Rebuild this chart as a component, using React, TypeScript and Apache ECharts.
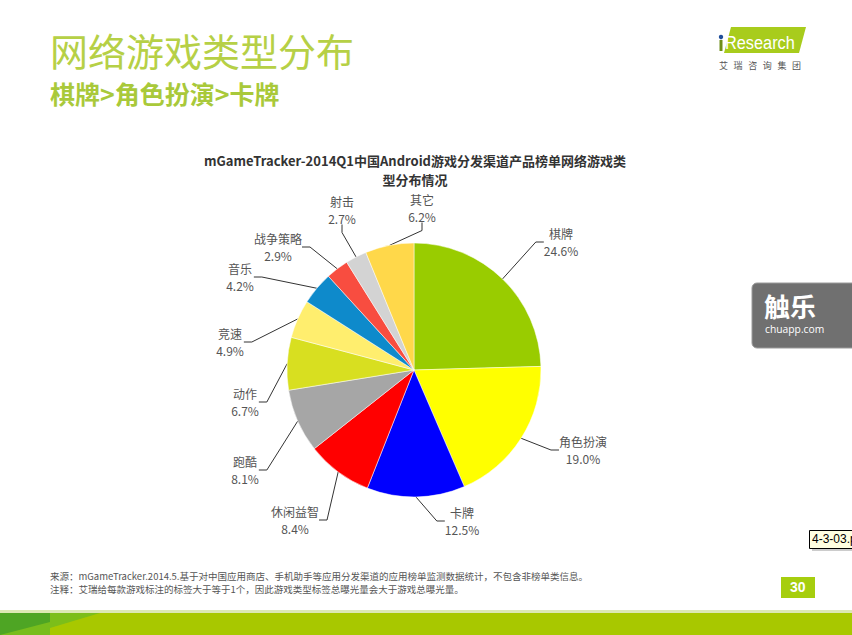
import React, { useEffect, useRef } from "react";
import * as echarts from "echarts";

const categories = ["棋牌", "角色扮演", "卡牌", "休闲益智", "跑酷", "动作", "竞速", "音乐", "战争策略", "射击", "其它"];
const shares = [24.6, 19.0, 12.5, 8.4, 8.1, 6.7, 4.9, 4.2, 2.9, 2.7, 6.2];
const sliceColors = ["#99CC00", "#FFFF00", "#0000FF", "#FF0000", "#A6A6A6", "#D8DF20", "#FFEE6E", "#0E8ACB", "#F84D40", "#D3D3D3", "#FFD84A"];
// where each slice's label block sits (centre of the two-line text)
const labelCenters = [
  [561, 242], [583, 450], [462, 521], [295, 520], [245, 470], [245, 402],
  [230, 342], [240, 277], [278, 247], [342, 210], [422, 208],
];

const pageTitle = "网络游戏类型分布";
const pageSubtitle = "棋牌>角色扮演>卡牌";
const chartTitle = "mGameTracker-2014Q1中国Android游戏分发渠道产品榜单网络游戏类\n型分布情况";
const notes = [
  "来源：mGameTracker.2014.5.基于对中国应用商店、手机助手等应用分发渠道的应用榜单监测数据统计，不包含非榜单类信息。",
  "注释：艾瑞给每款游戏标注的标签大于等于1个，因此游戏类型标签总曝光量会大于游戏总曝光量。",
];
const logoSub = ["艾", "瑞", "咨", "询", "集", "团"];

const CJK = '"Noto Sans CJK SC", "Noto Sans", sans-serif';

export default function App() {
  const ref = useRef<HTMLDivElement>(null);
  useEffect(() => {
    if (!ref.current) return;
    const chart = echarts.init(ref.current, null, { renderer: "svg" });
    chart.setOption({
      animation: false,
      backgroundColor: "#ffffff",
      title: {
        text: chartTitle,
        left: 410,
        top: 146,
        textAlign: "center",
        textStyle: { fontFamily: CJK, fontSize: 13, fontWeight: "bold", color: "#333333", lineHeight: 19 },
      },
      series: [
        {
          type: "pie",
          center: [414, 370],
          radius: 127,
          startAngle: 90,
          clockwise: true,
          avoidLabelOverlap: false,
          itemStyle: { borderColor: "#ffffff", borderWidth: 0.5 },
          label: {
            show: true,
            position: "outside",
            formatter: (p: any) => `{a|${p.name}}\n{a|${Number(p.value).toFixed(1)}%}`,
            rich: {
              a: { fontFamily: CJK, fontSize: 12, color: "#555555", align: "center", lineHeight: 17 },
            },
          },
          labelLine: {
            show: true,
            length: 18,
            length2: 8,
            lineStyle: { color: "#333333", width: 1 },
          },
          labelLayout: (params: any) => {
            const c = labelCenters[params.dataIndex];
            return { x: c[0], y: c[1], align: "center", verticalAlign: "middle" };
          },
          data: categories.map((name, i) => ({
            name,
            value: shares[i],
            itemStyle: { color: sliceColors[i] },
          })),
        },
      ],
      graphic: [
        { type: "text", left: 50, top: 30, style: { text: pageTitle, fontFamily: CJK, fontSize: 38, fill: "#B6D046" } },
        { type: "text", left: 50, top: 80, style: { text: pageSubtitle, fontFamily: CJK, fontSize: 25, fontWeight: "bold", fill: "#A9C93A" } },
        // logo
        { type: "polygon", shape: { points: [[731, 27], [806, 27], [799, 53], [724, 53]] }, style: { fill: "#A8CC1C" } },
        { type: "rect", shape: { x: 719.5, y: 40, width: 3, height: 11 }, style: { fill: "#6E8F1A" } },
        { type: "circle", shape: { cx: 721, cy: 37, r: 2.2 }, style: { fill: "#1F4E9A" } },
        { type: "text", x: 725, y: 33, scaleX: 0.86, style: { text: "Research", fontFamily: "Liberation Sans, Arial, sans-serif", fontSize: 19, fill: "#ffffff" } },
        ...logoSub.map((ch, i) => ({ type: "text", x: 719 + i * 14.6, y: 61, style: { text: ch, fontFamily: CJK, fontSize: 9, fill: "#555555" } })),
        // watermark
        { type: "rect", shape: { x: 752, y: 283, width: 110, height: 65, r: 5 }, style: { fill: "#707070", stroke: "#9a9a9a", lineWidth: 1 } },
        { type: "text", left: 764, top: 292, style: { text: "触乐", fontFamily: CJK, fontSize: 26, fontWeight: "bold", fill: "#ffffff" } },
        { type: "text", left: 765, top: 324, style: { text: "chuapp.com", fontFamily: "Open Sans, sans-serif", fontSize: 10.3, fill: "#ffffff" } },
        // tooltip-like box
        { type: "rect", shape: { x: 812, y: 533, width: 44, height: 18 }, style: { fill: "#cccccc" } },
        { type: "rect", shape: { x: 809.5, y: 530.5, width: 46, height: 18 }, style: { fill: "#FFFFE1", stroke: "#000000", lineWidth: 1 } },
        { type: "text", x: 812, y: 533, style: { text: "4-3-03.p", fontFamily: "Liberation Sans, Arial, sans-serif", fontSize: 12, fill: "#000000" } },
        // notes
        { type: "text", left: 50, top: 571, style: { text: notes[0], fontFamily: CJK, fontSize: 9.5, fill: "#555555" } },
        { type: "text", left: 50, top: 584, style: { text: notes[1], fontFamily: CJK, fontSize: 9.5, fill: "#555555" } },
        // page number
        { type: "rect", shape: { x: 781, y: 577, width: 34, height: 21 }, style: { fill: "#A6CE0E" } },
        { type: "text", left: 790, top: 580, style: { text: "30", fontFamily: "Liberation Sans, Arial, sans-serif", fontSize: 14, fontWeight: "bold", fill: "#ffffff" } },
        // bottom band
        { type: "rect", shape: { x: 0, y: 610, width: 852, height: 3 }, style: { fill: "#DCE8B4" } },
        { type: "rect", shape: { x: 0, y: 613, width: 852, height: 22 }, style: { fill: "#A8C800" } },
        { type: "rect", shape: { x: 0, y: 613, width: 50, height: 22 }, style: { fill: "#4EA524" } },
        { type: "polygon", shape: { points: [[50, 613], [100, 613], [50, 628]] }, style: { fill: "#7CBE1A" } },
        { type: "polygon", shape: { points: [[0, 635], [50, 622], [50, 635]] }, style: { fill: "#78BD1C" } },
      ],
    });
    return () => chart.dispose();
  }, []);
  return <div ref={ref} style={{ position: "fixed", left: 0, top: 0, width: 852, height: 635 }} />;
}
